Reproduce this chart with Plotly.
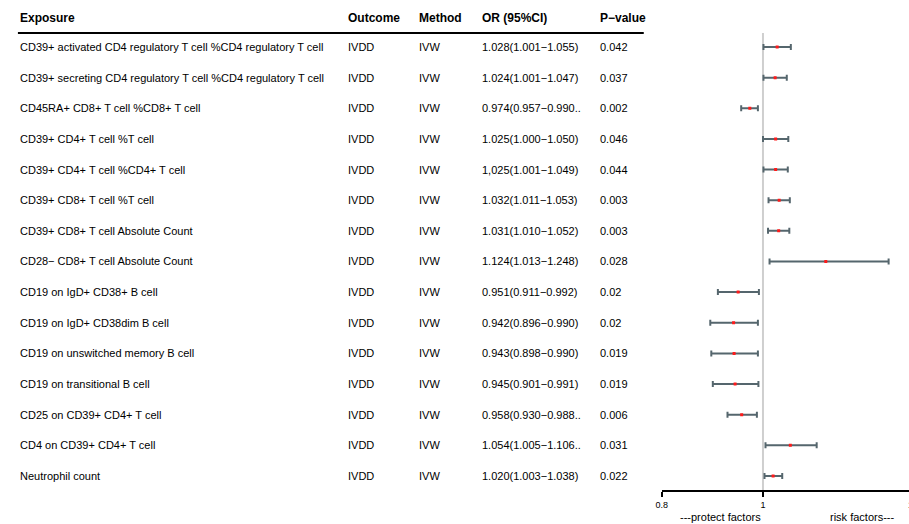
import plotly.graph_objects as go

# ---- data -----------------------------------------------------------------
exposures = [
    "CD39+ activated CD4 regulatory T cell %CD4 regulatory T cell",
    "CD39+ secreting CD4 regulatory T cell %CD4 regulatory T cell",
    "CD45RA+ CD8+ T cell %CD8+ T cell",
    "CD39+ CD4+ T cell %T cell",
    "CD39+ CD4+ T cell %CD4+ T cell",
    "CD39+ CD8+ T cell %T cell",
    "CD39+ CD8+ T cell Absolute Count",
    "CD28\u2212 CD8+ T cell Absolute Count",
    "CD19 on IgD+ CD38+ B cell",
    "CD19 on IgD+ CD38dim B cell",
    "CD19 on unswitched memory B cell",
    "CD19 on transitional B cell",
    "CD25 on CD39+ CD4+ T cell",
    "CD4 on CD39+ CD4+ T cell",
    "Neutrophil count",
]
outcomes = ["IVDD"] * 15
methods = ["IVW"] * 15
or_est = [1.028, 1.024, 0.974, 1.025, 1.025, 1.032, 1.031, 1.124,
          0.951, 0.942, 0.943, 0.945, 0.958, 1.054, 1.020]
ci_low = [1.001, 1.001, 0.957, 1.000, 1.001, 1.011, 1.010, 1.013,
          0.911, 0.896, 0.898, 0.901, 0.930, 1.005, 1.003]
ci_high = [1.055, 1.047, 0.990, 1.050, 1.049, 1.053, 1.052, 1.248,
           0.992, 0.990, 0.990, 0.991, 0.988, 1.106, 1.038]
or_text = [
    "1.028(1.001\u22121.055)", "1.024(1.001\u22121.047)", "0.974(0.957\u22120.990..",
    "1.025(1.000\u22121.050)", "1,025(1.001\u22121.049)", "1.032(1.011\u22121.053)",
    "1.031(1.010\u22121.052)", "1.124(1.013\u22121.248)", "0.951(0.911\u22120.992)",
    "0.942(0.896\u22120.990)", "0.943(0.898\u22120.990)", "0.945(0.901\u22120.991)",
    "0.958(0.930\u22120.988..", "1.054(1.005\u22121.106..", "1.020(1.003\u22121.038)",
]
p_values = ["0.042", "0.037", "0.002", "0.046", "0.044", "0.003", "0.003", "0.028",
            "0.02", "0.02", "0.019", "0.019", "0.006", "0.031", "0.022"]
headers = ["Exposure", "Outcome", "Method", "OR (95%CI)", "P\u2212value"]
x_ticks = [0.8, 1, 1.3]

# ---- layout geometry ------------------------------------------------------
W, H = 909, 524
FONT = "Liberation Sans, Arial, sans-serif"
col_left_px = [12, 342, 414, 477, 596]
row0_px, row_step_px = 47, 30.64
axis_px = 490
header_px = 18
rule_px = 33
forest_left_px = 660
px_per_unit = 510.0

x_min = 0.8
x_max = x_min + (W - forest_left_px) / px_per_unit
y_top = -row0_px / row_step_px
y_bottom = (axis_px - row0_px) / row_step_px


def px_x(p):
    return p / W


def px_y(p):
    return 1 - p / H


def row_val(p):
    return (p - row0_px) / row_step_px


rows = list(range(len(exposures)))

fig = go.Figure()

# confidence intervals and point estimates
fig.add_trace(go.Scatter(
    x=or_est, y=rows, mode="markers",
    marker=dict(symbol="square", size=3, color="#ff1a1a"),
    error_x=dict(type="data", symmetric=False,
                 array=[h - e for h, e in zip(ci_high, or_est)],
                 arrayminus=[e - l for e, l in zip(or_est, ci_low)],
                 color="#55666d", thickness=2, width=3),
    showlegend=False, hoverinfo="skip",
))

annotations = []
# column headers
for txt, xl in zip(headers, col_left_px):
    annotations.append(dict(x=px_x(xl), y=row_val(header_px), xref="paper", yref="y",
                            text=f"<b>{txt}</b>", showarrow=False, xanchor="left",
                            yanchor="middle", font=dict(family=FONT, size=12, color="black")))
# table body
for i in rows:
    for vals, xl in zip([exposures, outcomes, methods, or_text, p_values], col_left_px):
        annotations.append(dict(x=px_x(xl), y=i, xref="paper", yref="y", text=vals[i],
                                showarrow=False, xanchor="left", yanchor="middle",
                                font=dict(family=FONT, size=11, color="black")))

# tick label at the right end of the axis (partly beyond the page edge)
frac_13 = (x_ticks[2] - x_min) / (x_max - x_min)
dom0 = px_x(forest_left_px)
annotations.append(dict(x=dom0 + frac_13 * (1 - dom0), y=px_y(505), xref="paper", yref="paper",
                        text="1.3", showarrow=False, xanchor="center", yanchor="middle",
                        font=dict(family=FONT, size=9, color="black")))
# direction labels
annotations.append(dict(x=1.0, y=px_y(517), xref="x", yref="paper", text="---protect factors",
                        showarrow=False, xanchor="right", yanchor="middle",
                        font=dict(family=FONT, size=11, color="black")))
annotations.append(dict(x=1.0 + (827 - 762) / px_per_unit, y=px_y(517), xref="x", yref="paper",
                        text="risk factors---", showarrow=False, xanchor="left", yanchor="middle",
                        font=dict(family=FONT, size=11, color="black")))

shapes = [
    # rule under the header
    dict(type="line", xref="paper", yref="paper", x0=px_x(12), x1=px_x(642),
         y0=px_y(rule_px), y1=px_y(rule_px), line=dict(color="black", width=2)),
    # reference line at OR = 1
    dict(type="line", xref="x", yref="y", x0=1, x1=1, y0=row_val(rule_px), y1=y_bottom,
         line=dict(color="#cfcfcf", width=2), layer="below"),
]

fig.update_layout(
    width=W, height=H,
    margin=dict(l=0, r=0, t=0, b=0),
    paper_bgcolor="white", plot_bgcolor="white",
    annotations=annotations, shapes=shapes,
    xaxis=dict(domain=[dom0, 1], range=[x_min, x_max], tickvals=x_ticks,
               ticktext=[str(v) for v in x_ticks], showgrid=False, zeroline=False,
               showline=True, linecolor="black", linewidth=1.5,
               ticks="outside", ticklen=5, tickwidth=1.5, tickcolor="black",
               tickfont=dict(family=FONT, size=9, color="black")),
    yaxis=dict(domain=[1 - axis_px / H, 1], range=[y_bottom, y_top], visible=False,
               showgrid=False, zeroline=False),
)

fig.write_html("out.html")
